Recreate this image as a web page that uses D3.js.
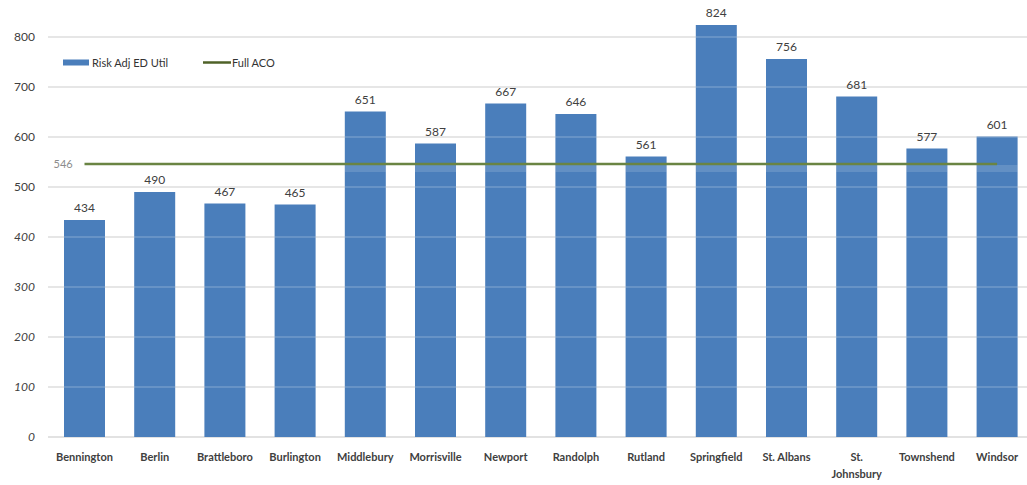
<!DOCTYPE html>
<html><head><meta charset="utf-8">
<script src="https://cdn.jsdelivr.net/npm/d3@7"></script>
<style>
html,body{margin:0;padding:0;background:#fff;}
svg{display:block;font-family:Lato,"Open Sans",sans-serif;}
</style></head>
<body><svg id="c" width="1027" height="485"></svg>
<script>
const categories = ["Bennington","Berlin","Brattleboro","Burlington","Middlebury","Morrisville","Newport","Randolph","Rutland","Springfield","St. Albans","St. Johnsbury","Townshend","Windsor"];
const riskAdjEDUtil = [434,490,467,465,651,587,667,646,561,824,756,681,577,601];
const fullACO = 546;
const yTicks = [0,100,200,300,400,500,600,700,800];
const seriesNames = ["Risk Adj ED Util","Full ACO"];

const svg = d3.select("#c");
const x = d3.scaleBand().domain(categories).range([34.8, 1046.8]).padding(0.416);
const y = d3.scaleLinear().domain([0, 800]).range([437, 37]);
const gridX0 = 48, gridX1 = 1027;

// gridlines under bars
svg.append("g").selectAll("line").data(yTicks).join("line")
  .attr("x1", gridX0).attr("x2", gridX1)
  .attr("y1", d => y(d)).attr("y2", d => y(d))
  .attr("stroke", "#d9d9d9").attr("stroke-width", 1.3);

// bars
svg.append("g").selectAll("rect").data(riskAdjEDUtil).join("rect")
  .attr("x", (d,i) => x(categories[i]))
  .attr("width", x.bandwidth())
  .attr("y", d => y(d))
  .attr("height", d => y(0) - y(d))
  .attr("fill", "#4a7ebb");

// faint gridlines over bars
svg.append("g").selectAll("line").data(yTicks.filter(d=>d>0)).join("line")
  .attr("x1", gridX0).attr("x2", gridX1)
  .attr("y1", d => y(d)).attr("y2", d => y(d))
  .attr("stroke", "rgba(255,255,255,0.22)").attr("stroke-width", 1.3);

// faint light band just below the Full ACO line on bars that cross it
const xc = c => x(c) + x.bandwidth()/2;
svg.append("g").selectAll("rect")
  .data(riskAdjEDUtil.map((v,i)=>({v,c:categories[i]})).filter(d=>d.v>fullACO))
  .join("rect")
  .attr("x", d => x(d.c)).attr("width", x.bandwidth())
  .attr("y", y(fullACO) + 1).attr("height", 7)
  .attr("fill", "rgba(255,255,255,0.14)");

// y axis labels
svg.append("g").selectAll("text").data(yTicks).join("text")
  .attr("x", 35).attr("y", d => y(d)).attr("dy", "0.35em")
  .attr("text-anchor", "end")
  .attr("font-size", 12).attr("fill", "#404040")
  .attr("font-style", d => d <= 400 ? "italic" : "normal")
  .text(d => d);

// Full ACO line
svg.append("line")
  .attr("x1", xc(categories[0])).attr("x2", xc(categories[categories.length-1]))
  .attr("y1", y(fullACO)).attr("y2", y(fullACO))
  .attr("stroke", "#6a8443").attr("stroke-width", 2.5);
svg.append("text")
  .attr("x", xc(categories[0]) - 31).attr("y", y(fullACO)).attr("dy","0.35em")
  .attr("font-size", 11).attr("fill", "#8c8c8c").text(fullACO);

// value labels
svg.append("g").selectAll("text").data(riskAdjEDUtil).join("text")
  .attr("x", (d,i) => xc(categories[i]))
  .attr("y", d => y(d) - 8)
  .attr("text-anchor", "middle")
  .attr("font-size", 12).attr("fill", "#404040")
  .text(d => d);

// category labels
const cl = svg.append("g").selectAll("text").data(categories).join("text")
  .attr("x", d => xc(d)).attr("y", 461)
  .attr("text-anchor", "middle")
  .attr("font-size", 11).attr("font-weight", "bold").attr("fill", "#404040");
cl.each(function(d){
  const t = d3.select(this);
  if (d === "St. Johnsbury") {
    t.append("tspan").attr("x", xc(d)).attr("dy", 0).text("St.");
    t.append("tspan").attr("x", xc(d)).attr("dy", 17).text("Johnsbury");
  } else t.text(d);
});

// legend
const lg = svg.append("g");
lg.append("rect").attr("x", 63).attr("y", 59.5).attr("width", 26).attr("height", 6).attr("fill", "#4a7ebb");
lg.append("text").attr("x", 92).attr("y", 63).attr("dy","0.35em").attr("font-size", 11).attr("fill","#333").text(seriesNames[0]);
lg.append("line").attr("x1", 203).attr("x2", 231).attr("y1", 62.5).attr("y2", 62.5).attr("stroke", "#4f6228").attr("stroke-width", 2.5);
lg.append("text").attr("x", 232).attr("y", 63).attr("dy","0.35em").attr("font-size", 11).attr("fill","#333").text(seriesNames[1]);
</script></body></html>
